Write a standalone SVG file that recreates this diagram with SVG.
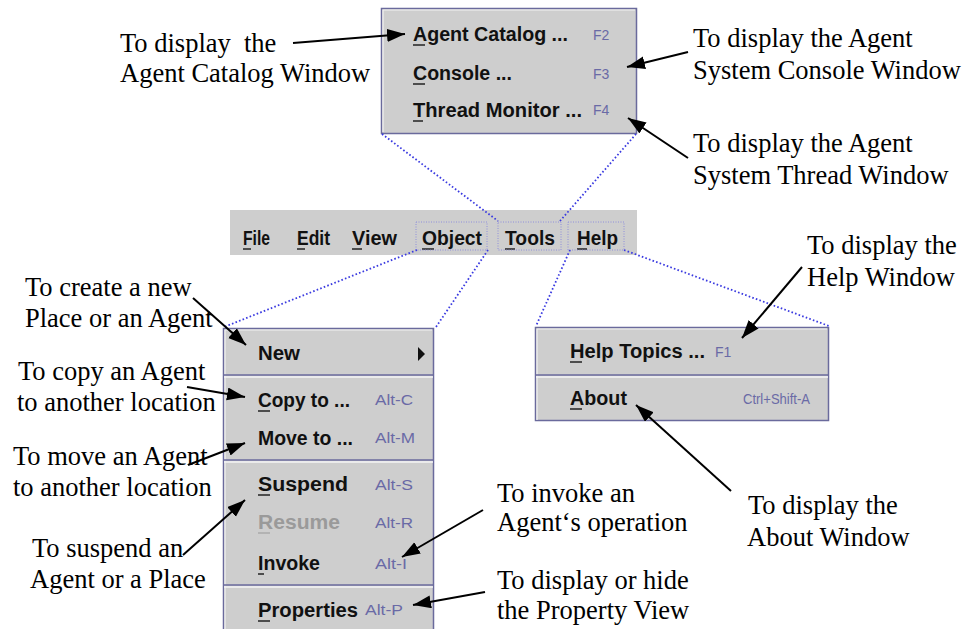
<svg xmlns="http://www.w3.org/2000/svg" width="967" height="629" viewBox="0 0 967 629">
<style>
.pop{fill:#cecece;stroke:#6a6a9c;stroke-width:1.5}
.hl{stroke:#f2f2f2;stroke-width:1.2;fill:none}
.sep{stroke:#6a6a9c;stroke-width:1.3}
.sepw{stroke:#f4f4f4;stroke-width:1.3}
.mi{font-family:"Liberation Sans",Arial,sans-serif;font-weight:bold;font-size:20px;fill:#111}
.mb{font-family:"Liberation Sans",Arial,sans-serif;font-weight:bold;font-size:21px;fill:#111}
.dis{fill:#9a9a9a}
.sc{font-family:"Liberation Sans",Arial,sans-serif;font-size:14px;fill:#6a6aa6}
.ul{stroke:#222;stroke-width:1.5}
.ann{font-family:"Liberation Serif","Times New Roman",serif;font-size:26.5px;fill:#000}
.dot{stroke:#3a3ae0;stroke-width:1.8;stroke-dasharray:1.6 2.2;fill:none}
.dbox{stroke:#8080e0;stroke-width:0.8;stroke-dasharray:1 1.5;fill:none}
.arr{stroke:#000;stroke-width:2;fill:none;marker-end:url(#ah)}
</style>
<defs>
<marker id="ah" markerUnits="userSpaceOnUse" markerWidth="20" markerHeight="14" refX="18" refY="6.5" orient="auto">
<path d="M0,0 L18,6.5 L0,13 z" fill="#000"/>
</marker>
</defs>
<rect width="967" height="629" fill="#fff"/>

<g id="tools-popup">
<rect class="pop" x="381.5" y="8.5" width="255" height="125"/>
<polyline class="hl" points="383,132 383,10 635,10"/>
<text class="mi" x="413" y="41" textLength="155" lengthAdjust="spacingAndGlyphs">Agent Catalog ...</text>
<line class="ul" x1="413" y1="45" x2="425" y2="45"/>
<text class="sc" x="593" y="40" font-size="15">F2</text>
<text class="mi" x="413" y="80" textLength="99" lengthAdjust="spacingAndGlyphs">Console ...</text>
<line class="ul" x1="413" y1="84" x2="425" y2="84"/>
<text class="sc" x="593" y="79" font-size="15">F3</text>
<text class="mi" x="413" y="117" textLength="169" lengthAdjust="spacingAndGlyphs">Thread Monitor ...</text>
<line class="ul" x1="413" y1="121" x2="423" y2="121"/>
<text class="sc" x="593" y="115" font-size="15">F4</text>
</g>

<g id="menubar">
<rect x="230" y="210" width="407" height="45" fill="#cecece"/>
<text class="mb" x="243" y="245" textLength="27" lengthAdjust="spacingAndGlyphs">File</text>
<line class="ul" x1="243" y1="249" x2="251" y2="249"/>
<text class="mb" x="297" y="245" textLength="33" lengthAdjust="spacingAndGlyphs">Edit</text>
<line class="ul" x1="297" y1="249" x2="305" y2="249"/>
<text class="mb" x="352" y="245" textLength="45" lengthAdjust="spacingAndGlyphs">View</text>
<line class="ul" x1="352" y1="249" x2="362" y2="249"/>
<text class="mb" x="422" y="245" textLength="60" lengthAdjust="spacingAndGlyphs">Object</text>
<line class="ul" x1="422" y1="249" x2="434" y2="249"/>
<text class="mb" x="505" y="245" textLength="50" lengthAdjust="spacingAndGlyphs">Tools</text>
<line class="ul" x1="505" y1="249" x2="515" y2="249"/>
<text class="mb" x="577" y="245" textLength="41" lengthAdjust="spacingAndGlyphs">Help</text>
<line class="ul" x1="577" y1="249" x2="587" y2="249"/>
<rect class="dbox" x="416" y="222" width="71" height="28"/>
<rect class="dbox" x="498" y="222" width="63" height="28"/>
<rect class="dbox" x="568" y="222" width="56" height="28"/>
</g>

<g id="object-popup">
<rect class="pop" x="223.5" y="328.5" width="210" height="302"/>
<polyline class="hl" points="225,629 225,330 432,330"/>
<text class="mi" x="258" y="360" textLength="42" lengthAdjust="spacingAndGlyphs">New</text>
<path d="M418,347 L425,354 L418,361 z" fill="#111"/>
<line class="sep" x1="224" y1="375" x2="433" y2="375"/>
<line class="sepw" x1="224" y1="377" x2="433" y2="377"/>
<text class="mi" x="258" y="407" textLength="92" lengthAdjust="spacingAndGlyphs">Copy to ...</text>
<line class="ul" x1="258" y1="411" x2="270" y2="411"/>
<text class="sc" x="375" y="405" textLength="38" lengthAdjust="spacingAndGlyphs">Alt-C</text>
<text class="mi" x="258" y="445" textLength="95" lengthAdjust="spacingAndGlyphs">Move to ...</text>
<text class="sc" x="375" y="443" textLength="40" lengthAdjust="spacingAndGlyphs">Alt-M</text>
<line class="sep" x1="224" y1="460" x2="433" y2="460"/>
<line class="sepw" x1="224" y1="462" x2="433" y2="462"/>
<text class="mi" x="258" y="491" textLength="90" lengthAdjust="spacingAndGlyphs">Suspend</text>
<line class="ul" x1="258" y1="495" x2="270" y2="495"/>
<text class="sc" x="375" y="490" textLength="38" lengthAdjust="spacingAndGlyphs">Alt-S</text>
<text class="mi dis" x="258" y="529" textLength="82" lengthAdjust="spacingAndGlyphs">Resume</text>
<line x1="258" y1="533" x2="270" y2="533" stroke="#aaa" stroke-width="1.5"/>
<text class="sc dis" x="375" y="528" textLength="38" lengthAdjust="spacingAndGlyphs">Alt-R</text>
<text class="mi" x="258" y="570" textLength="62" lengthAdjust="spacingAndGlyphs">Invoke</text>
<line class="ul" x1="258" y1="574" x2="264" y2="574"/>
<text class="sc" x="375" y="569" textLength="32" lengthAdjust="spacingAndGlyphs">Alt-I</text>
<line class="sep" x1="224" y1="585" x2="433" y2="585"/>
<line class="sepw" x1="224" y1="587" x2="433" y2="587"/>
<text class="mi" x="258" y="617" textLength="100" lengthAdjust="spacingAndGlyphs">Properties</text>
<line class="ul" x1="258" y1="621" x2="270" y2="621"/>
<text class="sc" x="365" y="615" textLength="38" lengthAdjust="spacingAndGlyphs">Alt-P</text>
</g>

<g id="help-popup">
<rect class="pop" x="535.5" y="327.5" width="293" height="93"/>
<polyline class="hl" points="537,420 537,329 827,329"/>
<text class="mi" x="570" y="358" textLength="135" lengthAdjust="spacingAndGlyphs">Help Topics ...</text>
<line class="ul" x1="570" y1="362" x2="582" y2="362"/>
<text class="sc" x="715" y="357" font-size="15">F1</text>
<line class="sep" x1="536" y1="375" x2="828" y2="375"/>
<line class="sepw" x1="536" y1="377" x2="828" y2="377"/>
<text class="mi" x="570" y="405" textLength="57" lengthAdjust="spacingAndGlyphs">About</text>
<line class="ul" x1="570" y1="409" x2="582" y2="409"/>
<text class="sc" x="743" y="404" textLength="67" lengthAdjust="spacingAndGlyphs">Ctrl+Shift-A</text>
</g>

<g id="connectors">
<line class="dot" x1="382" y1="134" x2="498" y2="221"/>
<line class="dot" x1="636" y1="134" x2="560" y2="221"/>
<line class="dot" x1="417" y1="250" x2="224" y2="327"/>
<line class="dot" x1="488" y1="250" x2="436" y2="327"/>
<line class="dot" x1="570" y1="250" x2="536" y2="326"/>
<line class="dot" x1="624" y1="250" x2="829" y2="326"/>

<line class="arr" x1="293" y1="43" x2="405" y2="34"/>
<line class="arr" x1="688" y1="52" x2="627" y2="67"/>
<line class="arr" x1="688" y1="158" x2="628" y2="118"/>
<line class="arr" x1="802" y1="267" x2="742" y2="338"/>
<line class="arr" x1="731" y1="491" x2="636" y2="405"/>
<line class="arr" x1="483" y1="510" x2="402" y2="557"/>
<line class="arr" x1="485" y1="592" x2="413" y2="605"/>
<line class="arr" x1="193" y1="298" x2="246" y2="345"/>
<line class="arr" x1="187" y1="387" x2="245" y2="397"/>
<line class="arr" x1="188" y1="465" x2="245" y2="443"/>
<line class="arr" x1="183" y1="555" x2="245" y2="500"/>
</g>

<g id="annotations">
<text class="ann" x="120" y="52" xml:space="preserve">To display  the</text>
<text class="ann" x="120" y="82">Agent Catalog Window</text>
<text class="ann" x="693" y="47">To display the Agent</text>
<text class="ann" x="693" y="79">System Console Window</text>
<text class="ann" x="693" y="152">To display the Agent</text>
<text class="ann" x="693" y="184">System Thread Window</text>
<text class="ann" x="807" y="254">To display the</text>
<text class="ann" x="807" y="286">Help Window</text>
<text class="ann" x="748" y="514">To display the</text>
<text class="ann" x="747" y="546">About Window</text>
<text class="ann" x="497" y="502">To invoke an</text>
<text class="ann" x="497" y="531">Agent‘s operation</text>
<text class="ann" x="497" y="589">To display or hide</text>
<text class="ann" x="497" y="619">the Property View</text>
<text class="ann" x="25" y="296">To create a new</text>
<text class="ann" x="25" y="327">Place or an Agent</text>
<text class="ann" x="18" y="380">To copy an Agent</text>
<text class="ann" x="17" y="411">to another location</text>
<text class="ann" x="13" y="465">To move an Agent</text>
<text class="ann" x="13" y="496">to another location</text>
<text class="ann" x="32" y="557">To suspend an</text>
<text class="ann" x="30" y="588">Agent or a Place</text>
</g>
</svg>
